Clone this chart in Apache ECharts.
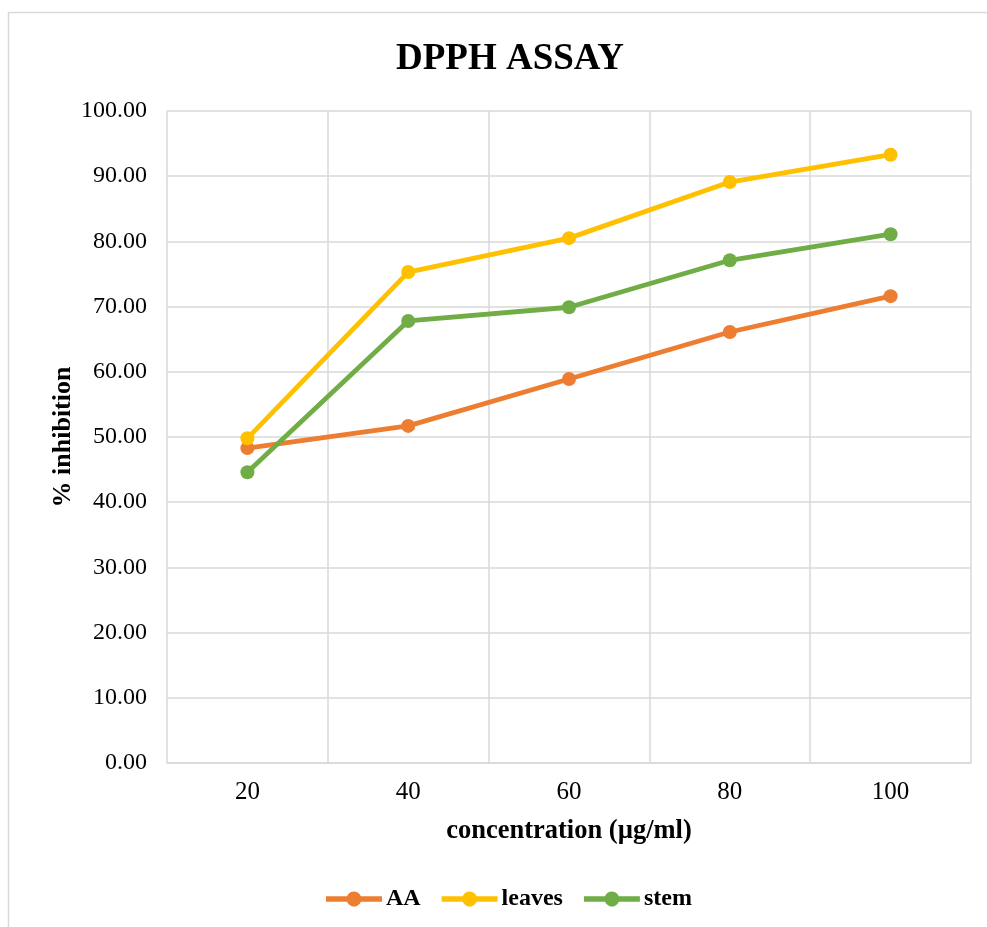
<!DOCTYPE html>
<html>
<head>
<meta charset="utf-8">
<script src="https://cdn.jsdelivr.net/npm/echarts@6/dist/echarts.min.js"></script>
<style>
html,body{margin:0;padding:0;background:#fff;}
#chart{width:987px;height:927px;}
</style>
</head>
<body>
<div id="chart"></div>
<script>
const categories = ['20', '40', '60', '80', '100'];
const aaValues = [48.3, 51.7, 58.9, 66.1, 71.6];
const leavesValues = [49.8, 75.3, 80.5, 89.1, 93.3];
const stemValues = [44.6, 67.8, 69.9, 77.1, 81.1];
const seriesNames = ['AA', 'leaves', 'stem'];
const yTicks = { min: 0, max: 100, interval: 10 };

const colors = ['#ED7D31', '#FFC000', '#70AD47'];
const font = 'Liberation Serif, Times New Roman, serif';
const legendIcon = 'path://M0 4.75 L21.02 4.75 A7.5 7.5 0 0 1 34.98 4.75 L56 4.75 L56 10.25 L34.98 10.25 A7.5 7.5 0 0 1 21.02 10.25 L0 10.25 Z';

const chart = echarts.init(document.getElementById('chart'), null, { renderer: 'canvas' });

function mkSeries(name, data, color) {
  return {
    name: name,
    type: 'line',
    data: data,
    symbol: 'circle',
    symbolSize: 14,
    lineStyle: { color: color, width: 4.8 },
    itemStyle: { color: color },
    emphasis: { disabled: true },
    animation: false
  };
}

chart.setOption({
  animation: false,
  backgroundColor: '#fff',
  title: {
    text: 'DPPH ASSAY',
    left: 391,
    top: 36,
    textStyle: { fontFamily: font, fontWeight: 'bold', fontSize: 37, color: '#000' }
  },
  graphic: [{
    type: 'rect',
    shape: { x: 8.5, y: 12.5, width: 1000, height: 1000 },
    style: { fill: 'none', stroke: '#D9D9D9', lineWidth: 1.5 },
    silent: true
  }],
  legend: {
    data: seriesNames.map(n => ({ name: n, icon: legendIcon })),
    top: 887,
    left: 326,
    padding: 0,
    itemWidth: 56,
    itemHeight: 15,
    itemGap: 21,
    textStyle: { fontFamily: font, fontWeight: 'bold', fontSize: 24, color: '#000', padding: [0, 0, 0, -1] }
  },
  grid: { left: 167, right: 16, top: 111, bottom: 164, containLabel: false },
  xAxis: {
    type: 'category',
    data: categories,
    boundaryGap: true,
    name: 'concentration (µg/ml)',
    nameLocation: 'middle',
    nameGap: 55,
    nameMoveOverlap: false,
    nameTextStyle: { fontFamily: font, fontWeight: 'bold', fontSize: 26.5, color: '#000' },
    axisLine: { show: true, lineStyle: { color: '#D9D9D9', width: 1.5 } },
    axisTick: { show: false },
    axisLabel: { fontFamily: font, fontSize: 25, color: '#000', margin: 17 },
    splitLine: { show: true, lineStyle: { color: '#D9D9D9', width: 1.5 } }
  },
  yAxis: {
    type: 'value',
    min: yTicks.min,
    max: yTicks.max,
    interval: yTicks.interval,
    name: '% inhibition',
    nameLocation: 'middle',
    nameGap: 91,
    nameMoveOverlap: false,
    nameRotate: 90,
    nameTextStyle: { fontFamily: font, fontWeight: 'bold', fontSize: 26, color: '#000' },
    axisLine: { show: false },
    axisTick: { show: false },
    axisLabel: {
      fontFamily: font, fontSize: 24, color: '#000', margin: 20,
      formatter: v => v.toFixed(2)
    },
    splitLine: { show: true, lineStyle: { color: '#D9D9D9', width: 1.5 } }
  },
  series: [
    mkSeries(seriesNames[0], aaValues, colors[0]),
    mkSeries(seriesNames[1], leavesValues, colors[1]),
    mkSeries(seriesNames[2], stemValues, colors[2])
  ]
});
</script>
</body>
</html>
